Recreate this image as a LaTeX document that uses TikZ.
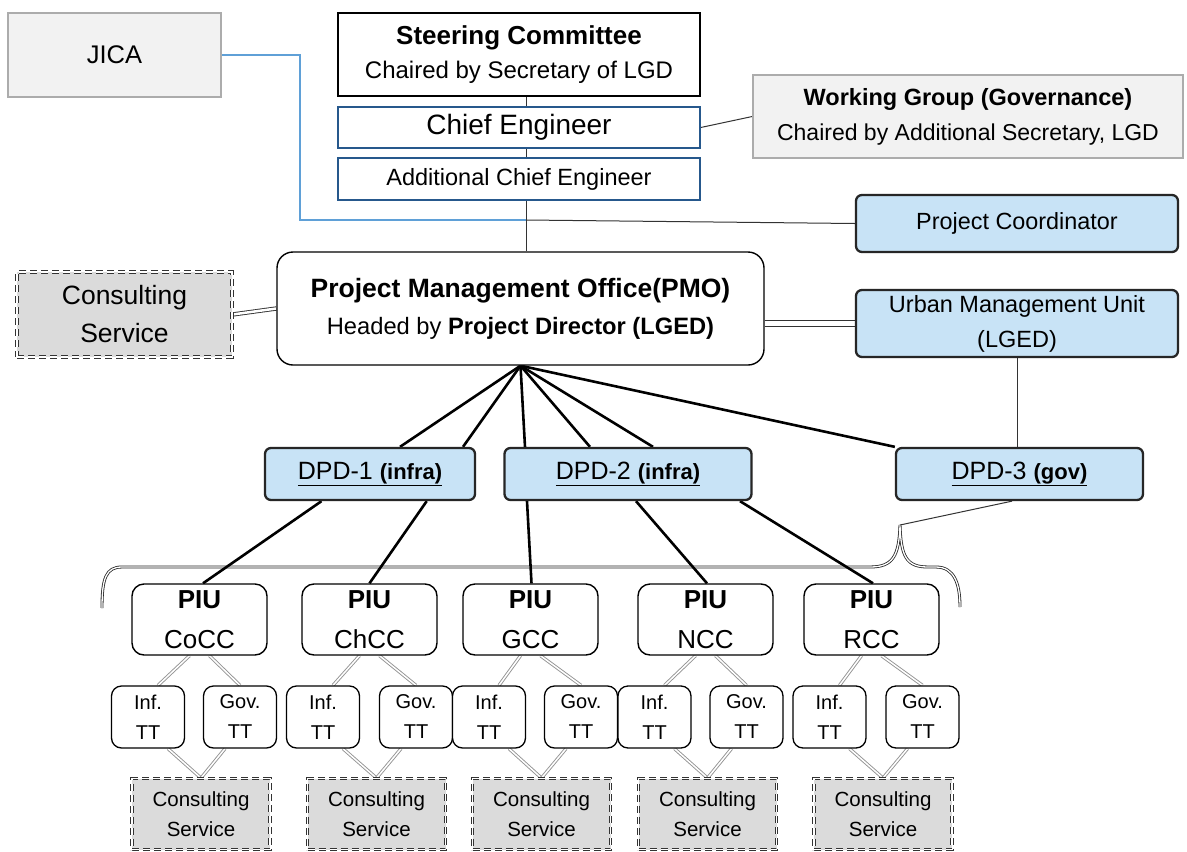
\documentclass[tikz,border=0pt]{standalone}
\usepackage{fontspec}
\setmainfont{Liberation Sans}
\usetikzlibrary{calc,backgrounds}
\newcommand{\fsz}[2]{\fontsize{#1}{#2}\selectfont}
\definecolor{boxblue}{RGB}{200,227,246}
\definecolor{ceblue}{RGB}{38,88,140}
\definecolor{jicablue}{RGB}{95,160,215}
\tikzset{
  base/.style={inner sep=2pt, align=center, text=black},
  greybox/.style={base, draw=gray!65, fill=gray!10, line width=1.5pt},
  plainbox/.style={base, draw=black, fill=white, line width=1.4pt},
  cebox/.style={base, draw=ceblue, fill=white, line width=1.5pt},
  bluebox/.style={base, draw=black!85, fill=boxblue, line width=2.3pt, rounded corners=6pt},
  pmobox/.style={base, draw=black, fill=white, line width=1.4pt, rounded corners=16pt},
  consult/.style={base, draw=black!80, fill=gray!28, dash pattern=on 7pt off 4pt,
    double=white, double distance=1.8pt, line width=0.9pt},
  piubox/.style={base, draw=black, fill=white, line width=1.4pt, rounded corners=12pt,
    minimum width=135pt, minimum height=71pt, font=\fsz{26}{40}},
  ttbox/.style={base, draw=black, fill=white, line width=1.3pt, rounded corners=10pt,
    minimum width=73pt, minimum height=62pt, font=\fsz{20}{30}},
  csbox/.style={consult, minimum width=138pt, minimum height=71pt, font=\fsz{20.5}{30}},
  thinlink/.style={draw=black!80, line width=1pt},
  jicalink/.style={draw=jicablue, line width=1.2pt},
  heavy/.style={draw=black, line width=2.6pt},
  twinblack/.style={draw=black!80, double=white, line width=0.9pt},
  twin/.style={draw=gray!85, double=white, double distance=1.5pt, line width=0.9pt},
  bracestyle/.style={draw=gray!30!black, double=white, double distance=1.3pt, line width=0.8pt}
}
\begin{document}
\begin{tikzpicture}[x=1pt,y=-1pt]
\useasboundingbox (0,0) rectangle (1187,852);

% top level
\node[greybox, minimum width=213pt, minimum height=84pt, font=\fsz{25.5}{30}] (jica) at (114.5,55) {JICA};
\node[plainbox, minimum width=362pt, minimum height=83pt, font=\fsz{24}{34}] (sc) at (519,54.5)
  {{\bfseries\fsz{26}{34}Steering Committee}\\Chaired by Secretary of LGD};
\node[cebox, minimum width=362pt, minimum height=41pt, font=\fsz{28}{30}] (ce) at (519,127.5) {Chief Engineer};
\node[cebox, minimum width=362pt, minimum height=42pt, font=\fsz{23.5}{30}] (ace) at (519,179) {Additional Chief Engineer};
\node[greybox, minimum width=430pt, minimum height=83pt, font=\fsz{23}{35}] (wg) at (968,116.5)
  {{\bfseries\fsz{23.5}{35}Working Group (Governance)}\\Chaired by Additional Secretary, LGD};
\node[bluebox, minimum width=322pt, minimum height=57pt, font=\fsz{23.4}{30}] (pc) at (1017,223.5) {Project Coordinator};

% project management office row
\node[consult, minimum width=215pt, minimum height=85pt, font=\fsz{26.5}{38}] (cs0) at (124.5,314.5) {Consulting\\Service};
\node[pmobox, minimum width=487pt, minimum height=113pt, font=\fsz{23.7}{37}] (pmo) at (520.5,308.5)
  {{\bfseries\fsz{26.5}{37}Project Management Office(PMO)}\\Headed by \textbf{Project Director (LGED)}};
\node[bluebox, minimum width=322pt, minimum height=67pt, font=\fsz{23.5}{35}] (umu) at (1017,323.5) {Urban Management Unit\\(LGED)};

% deputy project directors
\node[bluebox, minimum width=210pt, minimum height=52pt, font=\fsz{25}{30}] (dpd1) at (370,474)
  {\underline{DPD-1 {\bfseries\fsz{22}{30}(infra)}}};
\node[bluebox, minimum width=247pt, minimum height=52pt, font=\fsz{25}{30}] (dpd2) at (628,474)
  {\underline{DPD-2 {\bfseries\fsz{22}{30}(infra)}}};
\node[bluebox, minimum width=247pt, minimum height=52pt, font=\fsz{25}{30}] (dpd3) at (1019.5,474)
  {\underline{DPD-3 {\bfseries\fsz{22}{30}(gov)}}};

% project implementation units with their task teams and consultants
\foreach \i/\px/\ix/\gx/\cx/\city in {1/199.5/148/240/201/CoCC, 2/369.5/323/416/376.5/ChCC,
    3/530.5/489/581/541.5/GCC, 4/705.5/654.5/746.5/707.5/NCC, 5/871.5/829.5/922.5/883/RCC}{
  \node[piubox] (piu\i) at (\px,619.5) {\textbf{PIU}\\\city};
  \node[ttbox] (inf\i) at (\ix,717) {Inf.\\TT};
  \node[ttbox] (gov\i) at (\gx,717) {Gov.\\TT};
  \node[csbox] (cs\i) at (\cx,814) {Consulting\\Service};
}

\coordinate (trunk) at (526,0);
\coordinate (jbend) at (300,220);
\coordinate (jmeet) at (526,220);
\coordinate (bracetip) at (900,525);

\begin{scope}[on background layer]
  \fill[white] (0,0) rectangle (1187,852);
  % chain of command
  \draw[thinlink] (sc.south -| trunk) -- (ce.north -| trunk);
  \draw[thinlink] (ce.south -| trunk) -- (ace.north -| trunk);
  \draw[thinlink] (ace.south -| trunk) -- (pmo.north -| trunk);
  \draw[thinlink] (ce.east) -- (wg.west);
  \draw[jicalink] (jica.east) -| (jbend) -- (jmeet);
  \draw[thinlink] (jmeet) -- (pc.west);
  \draw[twinblack, double distance=2.5pt] (cs0.east) -- (pmo.west);
  \draw[twinblack, double distance=4.5pt] (umu.west -| pmo.east) -- (umu.west);
  \draw[thinlink] (umu.south) -- (umu.south |- dpd3.north);
  % brace grouping the units
  \draw[bracestyle] (102,608) .. controls (102,578) and (106,567) .. (122,567)
    -- (870,567) .. controls (893,567) and (899,556) .. (bracetip)
    .. controls (901,556) and (906,567) .. (928,567)
    -- (936,567) .. controls (955,567) and (960,585) .. (960,607);
  % fan from the office to the deputies
  \foreach \dx in {30,93} \draw[heavy] (pmo.south) -- ($(dpd1.north)+(\dx,0)$);
  \foreach \dx in {-103,-38,25} \draw[heavy] (pmo.south) -- ($(dpd2.north)+(\dx,0)$);
  \draw[heavy] (pmo.south) -- (dpd3.north west);
  % deputies to units
  \draw[heavy] ($(dpd1.south)+(-48.5,0)$) -- ($(piu1.north)+(3.5,0)$);
  \draw[heavy] ($(dpd1.south)+(56.7,0)$) -- (piu2.north);
  \draw[heavy] ($(dpd2.south)+(-101,0)$) -- ($(piu3.north)+(1,0)$);
  \draw[heavy] ($(dpd2.south)+(8,0)$) -- ($(piu4.north)+(1.5,0)$);
  \draw[heavy] ($(dpd2.south)+(112,0)$) -- ($(piu5.north)+(1.5,0)$);
  \draw[thinlink] ($(dpd3.south)+(-7.5,0)$) -- (bracetip);
  % units to task teams to consultants
  \foreach \i in {1,...,5}{
    \draw[twin] ($(piu\i.south)+(-10,0)$) -- ($(inf\i.north)+(10,0)$);
    \draw[twin] ($(piu\i.south)+(10,0)$) -- (gov\i.north);
    \draw[twin] ($(inf\i.south)+(20,0)$) -- (cs\i.north);
    \draw[twin] ($(gov\i.south)+(-15,0)$) -- (cs\i.north);
  }
\end{scope}
\end{tikzpicture}
\end{document}
